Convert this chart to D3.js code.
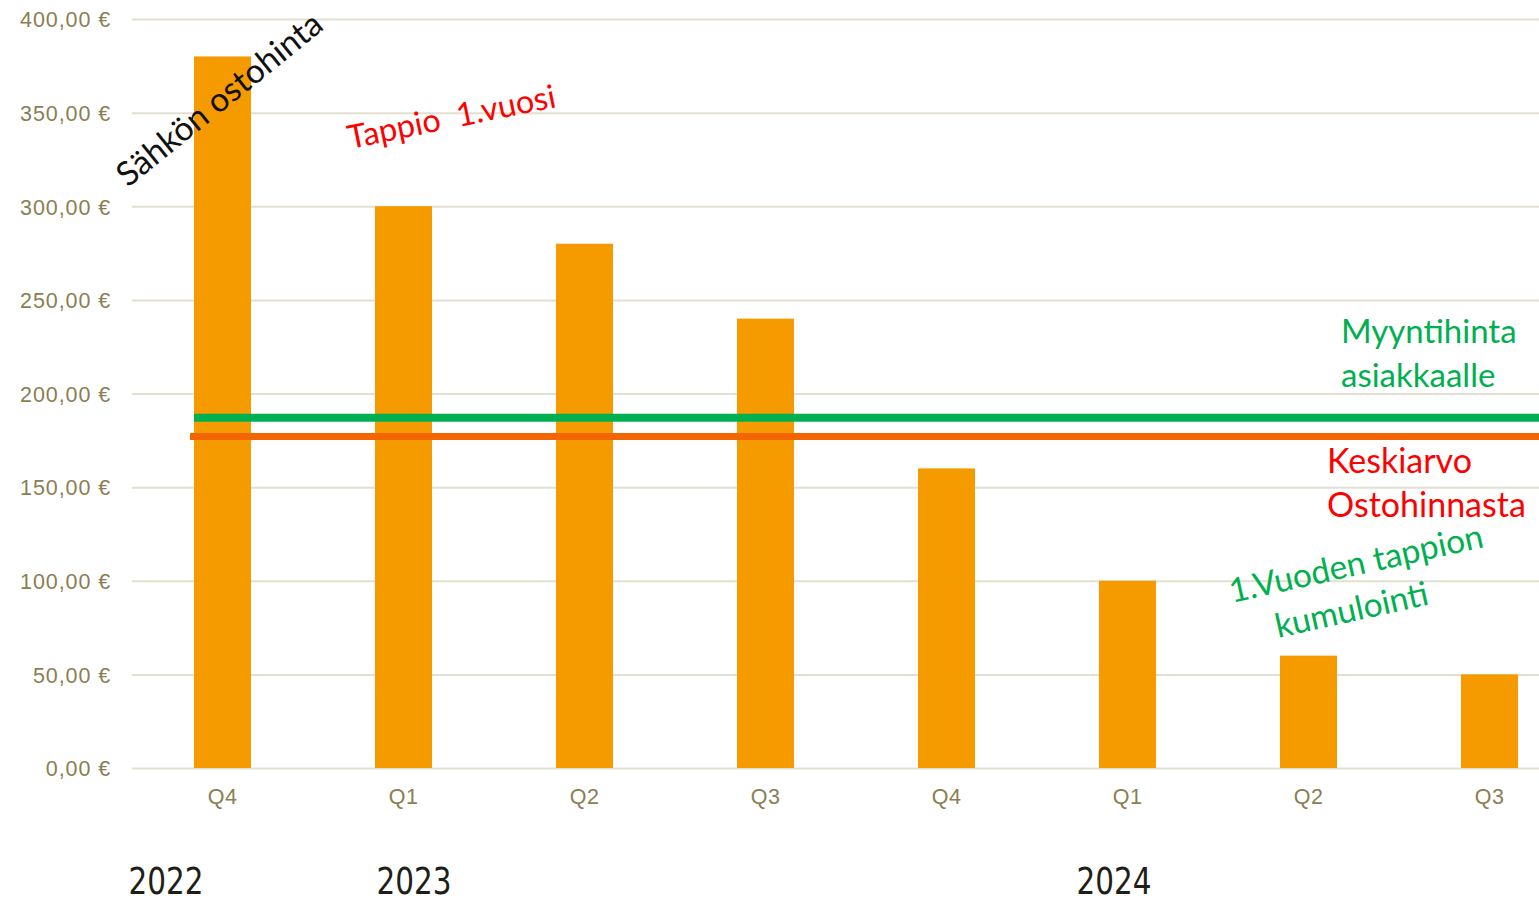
<!DOCTYPE html>
<html>
<head>
<meta charset="utf-8">
<script src="https://cdn.jsdelivr.net/npm/d3@7"></script>
<style>
  html, body { margin: 0; padding: 0; background: #fff; overflow: hidden; }
  svg { display: block; }
</style>
</head>
<body>
<svg id="chart" width="1539" height="902"></svg>
<script>
// ---- data ----
const quarters = ["Q4", "Q1", "Q2", "Q3", "Q4", "Q1", "Q2", "Q3"];
const purchasePrice = [380, 300, 280, 240, 160, 100, 60, 50];
const salePrice = 187;      // Myyntihinta asiakkaalle
const averagePurchase = 177; // Keskiarvo ostohinnasta
const yTicks = [0, 50, 100, 150, 200, 250, 300, 350, 400];
const years = ["2022", "2023", "2024"];
const yearAt = [0, 1, 5];

(function () {
// ---- layout ----
const svg = d3.select("#chart");
const W = 1539;
const plotLeft = 132, plotTop = 19, plotBottom = 768;
const step = 181;

const x = d3.scaleBand()
  .domain(d3.range(quarters.length))
  .range([plotLeft, plotLeft + step * quarters.length])
  .padding(0);
const y = d3.scaleLinear().domain([0, 400]).range([plotBottom, plotTop]);
const barW = x.bandwidth() * 0.315;

const fmt = v => v.toFixed(2).replace(".", ",") + " €";
const tickFont = "'Liberation Sans', Arial, sans-serif";

// grid + y axis
const yAxis = d3.axisLeft(y)
  .tickValues(yTicks)
  .tickSize(-(W - plotLeft))
  .tickPadding(21)
  .tickFormat(fmt);
const gy = svg.append("g").attr("transform", `translate(${plotLeft},0)`).call(yAxis);
gy.select(".domain").remove();
gy.selectAll(".tick line").attr("stroke", "#e3dfd0").attr("stroke-width", 2);
gy.selectAll(".tick text")
  .attr("fill", "#8a7e52")
  .attr("font-family", tickFont)
  .attr("font-size", 21.5)
  .attr("letter-spacing", 0.9)
  .attr("dy", "0.36em");

// bars
svg.append("g").selectAll("rect")
  .data(purchasePrice)
  .join("rect")
  .attr("x", (d, i) => x(i) + x.bandwidth() / 2 - barW / 2)
  .attr("width", barW)
  .attr("y", d => y(d))
  .attr("height", d => y(0) - y(d))
  .attr("fill", "#f59b00");

// x axis labels
const xAxis = d3.axisBottom(x).tickSize(0).tickPadding(21).tickFormat(i => quarters[i]);
const gx = svg.append("g").attr("transform", `translate(0,${plotBottom})`).call(xAxis);
gx.select(".domain").remove();
gx.selectAll(".tick text")
  .attr("fill", "#8a7e52")
  .attr("font-family", tickFont)
  .attr("font-size", 21.5)
  .attr("letter-spacing", 0.5);

// reference lines
svg.append("line")
  .attr("x1", x(0) + x.bandwidth() / 2 - barW / 2).attr("x2", W)
  .attr("y1", y(salePrice)).attr("y2", y(salePrice))
  .attr("stroke", "#00b050").attr("stroke-width", 8);
svg.append("line")
  .attr("x1", x(0) + x.bandwidth() / 2 - barW / 2 - 4).attr("x2", W)
  .attr("y1", y(averagePurchase)).attr("y2", y(averagePurchase))
  .attr("stroke", "#f26500").attr("stroke-width", 7);

// year labels
const yearDx = [-94, -27, -51];
svg.append("g").selectAll("text")
  .data(years)
  .join("text")
  .attr("x", (d, i) => x(yearAt[i]) + x.bandwidth() / 2 + yearDx[i])
  .attr("y", 894)
  .attr("fill", "#1e1e18")
  .attr("font-family", "'DejaVu Sans Condensed', 'Liberation Sans Narrow', sans-serif")
  .attr("font-size", 37)
  .attr("textLength", 75)
  .attr("lengthAdjust", "spacingAndGlyphs")
  .text(d => d);

// annotations
const annFont = "Lato, 'Open Sans', sans-serif";
function ann(txt, px, py, rot, color, size) {
  svg.append("text")
    .attr("transform", `translate(${px},${py}) rotate(${rot})`)
    .attr("fill", color)
    .attr("font-family", annFont)
    .attr("font-size", size)
    .style("white-space", "pre")
    .text(txt);
}
ann("Sähkön ostohinta", 128, 188, -39, "#111111", 33.5);
ann("Tappio  1.vuosi", 350, 149, -11.5, "#ff0000", 32.5);
ann("Myyntihinta", 1341, 343, 0, "#00b050", 33);
ann("asiakkaalle", 1341, 387, 0, "#00b050", 33);
ann("Keskiarvo", 1327, 473, 0, "#ff0000", 34);
ann("Ostohinnasta", 1327, 517, 0, "#ff0000", 34);
ann("1.Vuoden tappion", 1232, 603, -12.5, "#00b050", 33.5);
ann("kumulointi", 1278, 638, -12.5, "#00b050", 33.5);
})();
</script>
</body>
</html>
